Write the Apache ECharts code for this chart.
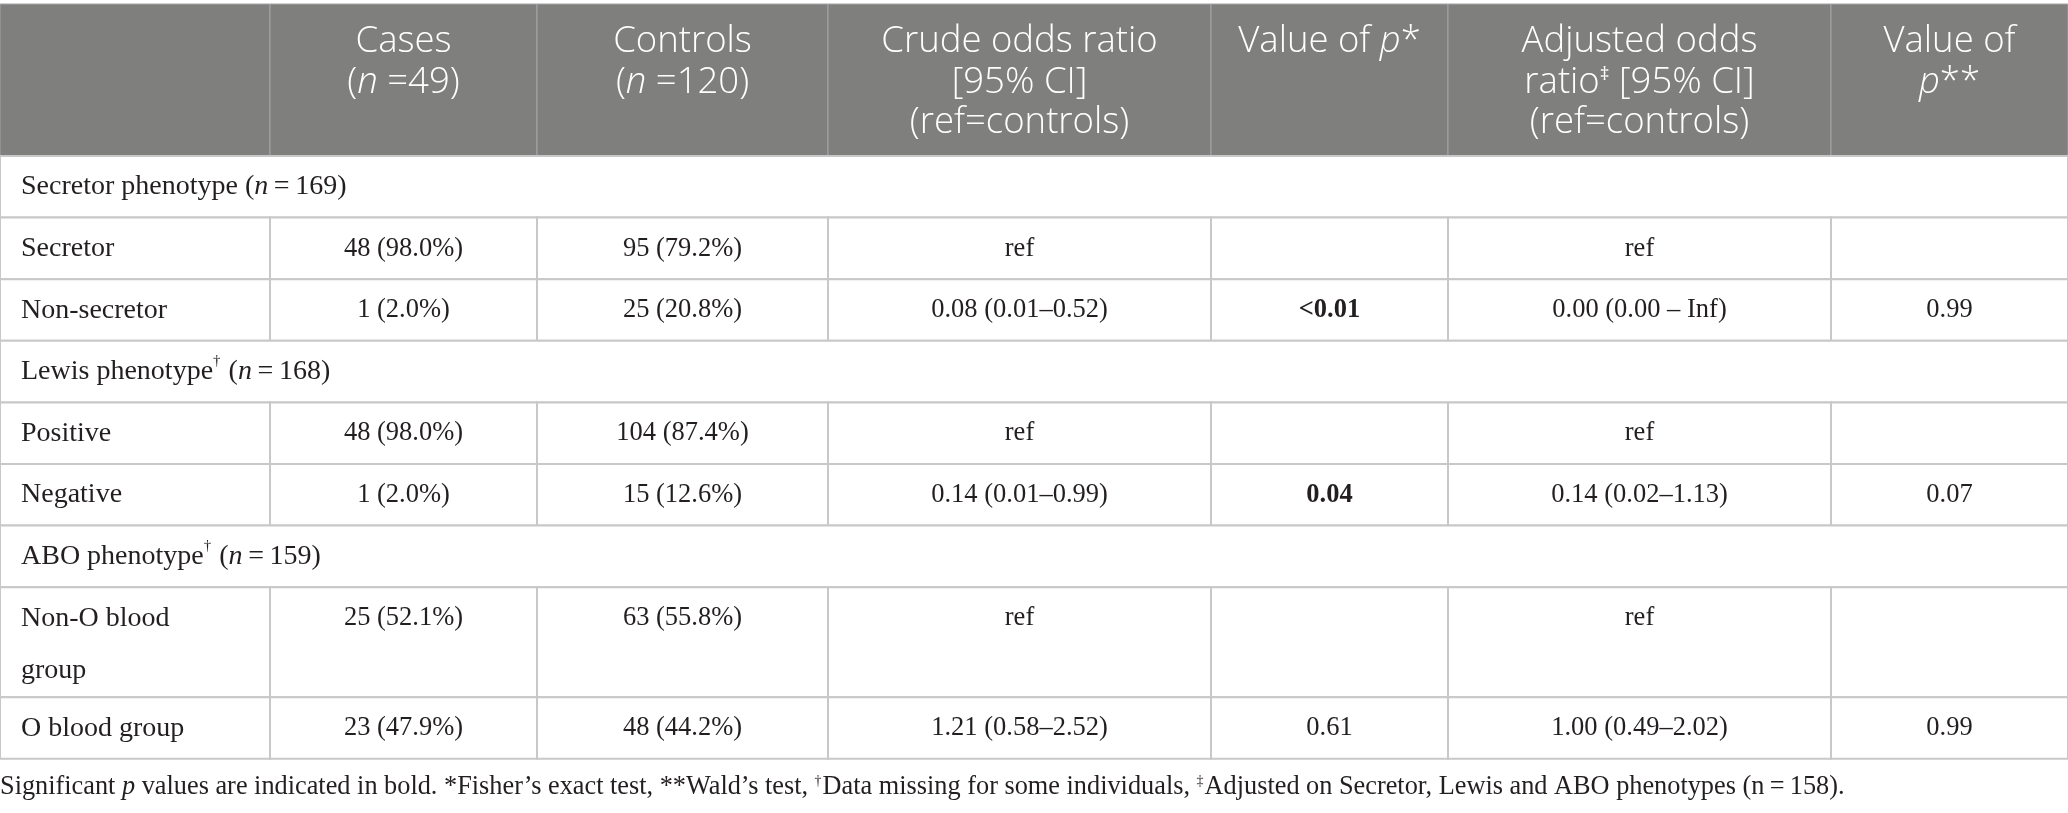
<!DOCTYPE html>
<html lang="en">
  <head>
    <meta charset="UTF-8" />
    <title>Secretor, Lewis and ABO phenotypes</title>
    <style>
      html, body { margin: 0; padding: 0; background: #fff; }
      #chart { width: 2068px; height: 813px; }
    </style>
  </head>
  <body>
    <div id="chart"></div>
    <script src="https://cdn.jsdelivr.net/npm/echarts@6/dist/echarts.min.js"></script>
    <script>
      // table content; {i|..} italic, {b|..} bold, {sup|..} superscript
      const headers = [
        "",
        "Cases\n({i|n} =49)",
        "Controls\n({i|n} =120)",
        "Crude odds ratio\n[95% CI]\n(ref=controls)",
        "Value of {i|p}*",
        "Adjusted odds\nratio{sup|‡} [95% CI]\n(ref=controls)",
        "Value of\n{i|p}**"
      ];
      const sections = [
        "Secretor phenotype ({i|n}\u2009=\u2009169)",
        "Lewis phenotype{sup|†} ({i|n}\u2009=\u2009168)",
        "ABO phenotype{sup|†} ({i|n}\u2009=\u2009159)"
      ];
      const rowSection = [0, 0, 1, 1, 2, 2];
      const rowLabels = ["Secretor", "Non-secretor", "Positive", "Negative", "Non-O blood\ngroup", "O blood group"];
      const cases = ["48 (98.0%)", "1 (2.0%)", "48 (98.0%)", "1 (2.0%)", "25 (52.1%)", "23 (47.9%)"];
      const controls = ["95 (79.2%)", "25 (20.8%)", "104 (87.4%)", "15 (12.6%)", "63 (55.8%)", "48 (44.2%)"];
      const crudeOR = ["ref", "0.08 (0.01–0.52)", "ref", "0.14 (0.01–0.99)", "ref", "1.21 (0.58–2.52)"];
      const pCrude = ["", "{b|<0.01}", "", "{b|0.04}", "", "0.61"];
      const adjustedOR = ["ref", "0.00 (0.00 – Inf)", "ref", "0.14 (0.02–1.13)", "ref", "1.00 (0.49–2.02)"];
      const pAdjusted = ["", "0.99", "", "0.07", "", "0.99"];
      const footnote =
        "Significant {i|p} values are indicated in bold. *Fisher’s exact test, **Wald’s test, " +
        "{sup|†}Data missing for some individuals, {sup|‡}Adjusted on Secretor, Lewis and ABO phenotypes (n\u2009=\u2009158).";

      // layout
      const colEdges = [0, 270, 537, 828, 1211, 1448, 1831, 2068];
      const tableTop = 4;
      const headerHeight = 152;
      const rowHeight = 61.6;
      const lineStep = 52;
      const serif = "'Liberation Serif', 'Times New Roman', serif";
      const sans = "'Open Sans', 'Noto Sans', sans-serif";
      const labelSize = 28;
      const numSize = 26.5;
      const headSize = 36.5;
      const headLine = 40.5;

      // build cells: [x0, y0, x1, y1] in table units
      const cells = [];
      let y = tableTop;
      headers.forEach((h, c) => {
        cells.push({ kind: "head", text: h, box: [colEdges[c], y, colEdges[c + 1], y + headerHeight] });
      });
      y += headerHeight;
      let current = -1;
      rowLabels.forEach((label, r) => {
        if (rowSection[r] !== current) {
          current = rowSection[r];
          cells.push({ kind: "section", text: sections[current], box: [0, y, colEdges[7], y + rowHeight] });
          y += rowHeight;
        }
        const lines = label.split("\n").length;
        const h = rowHeight + (lines - 1) * (lineStep - 3.6);
        const rowVals = [label, cases[r], controls[r], crudeOR[r], pCrude[r], adjustedOR[r], pAdjusted[r]];
        rowVals.forEach((v, c) => {
          cells.push({ kind: c === 0 ? "label" : "body", text: v, box: [colEdges[c], y, colEdges[c + 1], y + h] });
        });
        y += h;
      });

      function serifRich(size) {
        return {
          i: { fontFamily: serif, fontSize: size, fontStyle: "italic", lineHeight: lineStep },
          b: { fontFamily: serif, fontSize: size, fontWeight: "bold", lineHeight: lineStep },
          sup: { fontFamily: serif, fontSize: 15, verticalAlign: "top", padding: [8, 1, 0, 0], lineHeight: lineStep }
        };
      }
      const labelRich = serifRich(labelSize);
      const numRich = serifRich(numSize);
      const headRich = {
        i: { fontFamily: sans, fontSize: headSize, fontWeight: 300, fontStyle: "italic", lineHeight: headLine, color: "#fff" },
        sup: { fontFamily: sans, fontSize: 19, verticalAlign: "top", padding: [3, 0, 0, 0], lineHeight: headLine, color: "#fff" }
      };

      function renderCell(params, api) {
        const cell = cells[params.dataIndex];
        const p0 = api.coord([api.value(0), api.value(1)]);
        const p1 = api.coord([api.value(2), api.value(3)]);
        const head = cell.kind === "head";
        const left = cell.kind === "label" || cell.kind === "section";
        return {
          type: "group",
          children: [
            {
              type: "rect",
              shape: { x: p0[0], y: p0[1], width: p1[0] - p0[0], height: p1[1] - p0[1] },
              style: head
                ? { fill: "#7f807e", stroke: "#a4a4a4", lineWidth: 1 }
                : { fill: "#fff", stroke: "#c8c8c8", lineWidth: 2 }
            },
            {
              type: "text",
              z2: 10,
              style: {
                text: cell.text,
                x: left ? p0[0] + 21 : (p0[0] + p1[0]) / 2,
                y: head ? p0[1] + 17.75 : p0[1] + 5,
                align: left ? "left" : "center",
                verticalAlign: "top",
                fontFamily: head ? sans : serif,
                fontWeight: head ? 300 : "normal",
                fontSize: head ? headSize : left ? labelSize : numSize,
                lineHeight: head ? headLine : lineStep,
                fill: head ? "#fff" : "#231f20",
                rich: head ? headRich : left ? labelRich : numRich
              }
            }
          ]
        };
      }

      const chart = echarts.init(document.getElementById("chart"));
      chart.setOption({
        animation: false,
        title: {
          text: footnote,
          left: 0,
          top: 770,
          padding: 0,
          textStyle: {
            fontFamily: serif,
            fontSize: 26.3,
            fontWeight: "normal",
            color: "#231f20",
            lineHeight: 34,
            rich: {
              i: { fontFamily: serif, fontSize: 26.3, fontStyle: "italic", color: "#231f20", lineHeight: 34 },
              sup: { fontFamily: serif, fontSize: 14, verticalAlign: "top", padding: [4, 1, 0, 0], color: "#231f20", lineHeight: 34 }
            }
          }
        },
        grid: { left: 0, right: 0, top: 0, bottom: 0 },
        xAxis: { type: "value", min: 0, max: 2068, show: false },
        yAxis: { type: "value", min: 0, max: 813, inverse: true, show: false },
        series: [
          {
            type: "custom",
            silent: true,
            clip: false,
            renderItem: renderCell,
            encode: { x: [0, 2], y: [1, 3] },
            data: cells.map((c) => c.box)
          }
        ]
      });
    </script>
  </body>
</html>
